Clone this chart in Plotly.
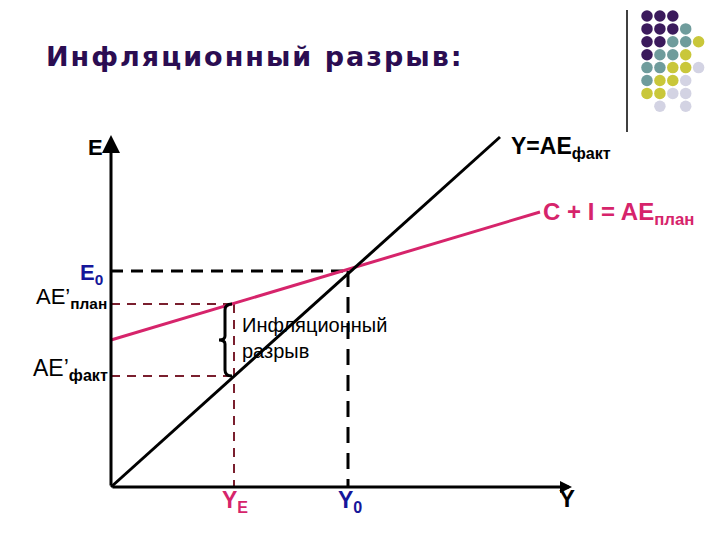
import plotly.graph_objects as go

# ---- model values (data units: Y on x axis, E on y axis) ----
line45_x = [0, 389]
line45_y = [0, 350]
plan_x = [0, 429]
plan_y = [147, 275]
Y0 = 237
E0 = 216
YE = 123
AE_plan = 183
AE_fact = 111
axis_x_end = 461
axis_y_end = 352

# decorative dots (row, col, colour index)
dot_rows = [0,0,0, 1,1,1,1, 2,2,2,2,2, 3,3,3,3, 4,4,4,4,4, 5,5,5,5, 6,6,6,6, 7,7]
dot_cols = [0,1,2, 0,1,2,3, 0,1,2,3,4, 0,1,2,3, 0,1,2,3,4, 0,1,2,3, 0,1,2,3, 1,3]
dot_cidx = [0,0,0, 0,0,0,1, 0,0,1,1,2, 0,1,1,2, 1,1,2,2,3, 1,2,2,3, 2,2,3,3, 3,3]
dot_palette = ["#3b1a5c", "#6f9c9c", "#c9c73a", "#d3d3e3"]

RED = "#d6246b"
DARKRED = "#7a1f2e"
BLUE = "#16169a"
TITLE = "#2b0d52"
OFF = 8  # page body margin compensation

fig = go.Figure()

# axes (drawn as arrows)
fig.add_annotation(x=0, y=axis_y_end, ax=0, ay=0, xref="x", yref="y", axref="x", ayref="y",
                   showarrow=True, arrowhead=2, arrowsize=1.2, arrowwidth=3, arrowcolor="black", text="")
fig.add_annotation(x=axis_x_end, y=0, ax=0, ay=0, xref="x", yref="y", axref="x", ayref="y",
                   showarrow=True, arrowhead=2, arrowsize=0.8, arrowwidth=3, arrowcolor="black", text="")

# dashed guides
fig.add_trace(go.Scatter(x=[0, Y0], y=[E0, E0], mode="lines",
                         line=dict(color="black", width=3, dash="12px,8px"), hoverinfo="skip"))
fig.add_trace(go.Scatter(x=[Y0, Y0], y=[E0, 0], mode="lines",
                         line=dict(color="black", width=3, dash="16px,10px"), hoverinfo="skip"))
fig.add_trace(go.Scatter(x=[0, YE], y=[AE_plan, AE_plan], mode="lines",
                         line=dict(color=DARKRED, width=2, dash="9px,7px"), hoverinfo="skip"))
fig.add_trace(go.Scatter(x=[0, YE], y=[AE_fact, AE_fact], mode="lines",
                         line=dict(color=DARKRED, width=2, dash="9px,7px"), hoverinfo="skip"))
fig.add_trace(go.Scatter(x=[YE, YE], y=[AE_plan, 0], mode="lines",
                         line=dict(color=DARKRED, width=2, dash="9px,7px"), hoverinfo="skip"))

# main lines
fig.add_trace(go.Scatter(x=plan_x, y=plan_y, mode="lines", line=dict(color=RED, width=3), hoverinfo="skip"))
fig.add_trace(go.Scatter(x=line45_x, y=line45_y, mode="lines", line=dict(color="black", width=3), hoverinfo="skip"))

# brace
bx = YE - 2
top, bot = AE_plan, AE_fact
mid = (top + bot) / 2
path = (f"M {bx},{top} Q {bx-7},{top} {bx-7},{top-6} L {bx-7},{mid+4} "
        f"Q {bx-7},{mid} {bx-13},{mid} Q {bx-7},{mid} {bx-7},{mid-4} "
        f"L {bx-7},{bot+6} Q {bx-7},{bot} {bx},{bot}")
fig.add_shape(type="path", path=path, xref="x", yref="y", line=dict(color="black", width=3))

# decorative dots
dx0, dy0, step = 647, 16, 12.9
fig.add_trace(go.Scatter(
    x=[dx0 - 111 + c * step for c in dot_cols],
    y=[487 - (dy0 + r * step) for r in dot_rows],
    mode="markers",
    marker=dict(size=11.5, color=[dot_palette[i] for i in dot_cidx], line=dict(width=0)),
    hoverinfo="skip"))
fig.add_shape(type="line", x0=627 - 111, x1=627 - 111, y0=487 - 10, y1=487 - 132,
              xref="x", yref="y", line=dict(color="black", width=1.5))

F = "Liberation Sans, Arial, sans-serif"
def txt(x, y, s, size, color="black", xanchor="center", bold=False, yanchor="middle"):
    if bold:
        s = "<b>" + s + "</b>"
    fig.add_annotation(x=x, y=y, xref="x", yref="y", text=s, showarrow=False,
                       font=dict(family=F, size=size, color=color), xanchor=xanchor, yanchor=yanchor)

txt(-16, 340, "E", 22, bold=True)
txt(398, 340, "Y=AE<sub>факт</sub>", 23, bold=True, xanchor="left")
txt(430, 274, "C + I = AE<sub>план</sub>", 24, color=RED, bold=True, xanchor="left")
txt(-20, 213, "E<sub>0</sub>", 22, color=BLUE, bold=True)
txt(-77, 189, "AE’<sub><b>план</b></sub>", 22, xanchor="left")
txt(-80, 118, "AE’<sub><b>факт</b></sub>", 23, xanchor="left")
txt(YE + 1, -14, "Y<sub>E</sub>", 23, color=RED, bold=True)
txt(Y0 + 2, -14, "Y<sub>0</sub>", 23, color=BLUE, bold=True)
txt(456, -11, "Y", 24, bold=True)
txt(YE + 6, 162, "Инфляционный", 20, xanchor="left")
txt(YE + 6, 136, "разрыв", 20, xanchor="left")

fig.add_annotation(x=(44 - OFF) / 720, y=1 - (56 - OFF) / 540, xref="paper", yref="paper", showarrow=False,
                   text="<b><span style='letter-spacing:2px'>Инфляционный разрыв:</span></b>",
                   xanchor="left", yanchor="middle",
                   font=dict(family="DejaVu Sans, Verdana, sans-serif", size=27, color=TITLE))

fig.update_layout(width=720, height=540, margin=dict(l=0, r=0, t=0, b=0),
                  paper_bgcolor="white", plot_bgcolor="white", showlegend=False,
                  xaxis=dict(range=[-111 + OFF, 609 + OFF], visible=False, fixedrange=True),
                  yaxis=dict(range=[-53 - OFF, 487 - OFF], visible=False, fixedrange=True))
fig.write_html("out.html")
